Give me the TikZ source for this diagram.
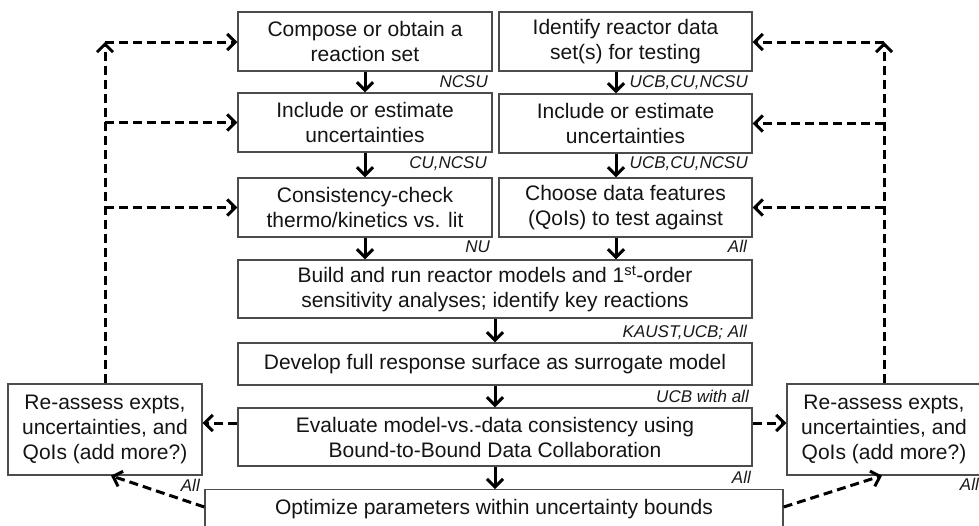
\documentclass[tikz,border=0pt]{standalone}
\usepackage{fontspec}
\setmainfont{Liberation Sans}
\usetikzlibrary{arrows.meta,calc}
\begin{document}
\begin{tikzpicture}[x=1pt,y=-1pt,
 box/.style={draw=black!70, line width=1.3pt, align=center, inner sep=0pt,
   font=\fontsize{21}{25}\selectfont, text=black!92},
 lab/.style={font=\fontsize{17}{18}\selectfont\itshape, inner sep=0pt, anchor=base east, text=black!90},
 arr/.style={line width=3pt, -{Straight Barb[length=8pt,width=16pt]}},
 darr/.style={arr, dash pattern=on 9pt off 5pt},
]
\useasboundingbox (0,0) rectangle (979,525);
\clip (0,0) rectangle (979,525);
\fill[white] (0,0) rectangle (979,525);

% boxes
\node[box, minimum width=254pt, minimum height=59pt] (L1) at (365,41.5) {Compose or obtain a\\reaction set};
\node[box, minimum width=254pt, minimum height=59pt] (L2) at (365,122.5) {Include or estimate\\uncertainties};
\node[box, minimum width=254pt, minimum height=59pt] (L3) at (365,207.5) {Consistency-check\\thermo/kinetics vs. lit};
\node[box, minimum width=253pt, minimum height=59pt] (R1) at (625.5,41.5) {Identify reactor data\\set(s) for testing};
\node[box, minimum width=253pt, minimum height=59pt] (R2) at (625.5,123.5) {Include or estimate\\uncertainties};
\node[box, minimum width=253pt, minimum height=59pt] (R3) at (625.5,207.5) {Choose data features\\(QoIs) to test against};
\node[box, minimum width=514pt, minimum height=58pt] (BU) at (495,289) {Build and run reactor models and 1\textsuperscript{st}-order\\sensitivity analyses; identify key reactions};
\node[box, minimum width=514pt, minimum height=42pt] (DE) at (495,364) {Develop full response surface as surrogate model};
\node[box, minimum width=514pt, minimum height=58pt] (EV) at (495,437) {Evaluate model-vs.-data consistency using\\Bound-to-Bound Data Collaboration};
\node[box, minimum width=578pt, minimum height=66pt, anchor=north] (OP) at (494,489) {Optimize parameters within uncertainty bounds\\\strut};
\node[box, minimum width=194pt, minimum height=91pt] (LR) at (105,429.5) {Re-assess expts,\\uncertainties, and\\QoIs (add more?)};
\node[box, minimum width=194pt, minimum height=91pt] (RR) at (884,429.5) {Re-assess expts,\\uncertainties, and\\QoIs (add more?)};

% helper coordinates
\coordinate (cr) at (616,0);
\coordinate (ltop) at (105,42);
\coordinate (rtop) at (884,42);
\coordinate (ye) at (0,423);
\coordinate (yo) at (0,507);

% solid arrows
\draw[arr] (L1.south) -- (L2.north);
\draw[arr] (L2.south) -- (L3.north);
\draw[arr] (L3.south) -- (L3.south |- BU.north);
\draw[arr] (R1.south -| cr) -- (R2.north -| cr);
\draw[arr] (R2.south -| cr) -- (R3.north -| cr);
\draw[arr] (R3.south -| cr) -- (BU.north -| cr);
\draw[arr] (BU.south) -- (DE.north);
\draw[arr] (DE.south) -- (EV.north);
\draw[arr] (EV.south) -- (EV.south |- OP.north);

% dashed feedback (left)
\draw[darr] (LR.north) -- (ltop);
\draw[darr] (ltop) -- (L1.west |- ltop);
\draw[darr] (LR.north |- L2.west) -- (L2.west);
\draw[darr] (LR.north |- L3.west) -- (L3.west);
% dashed feedback (right)
\draw[darr] (RR.north) -- (rtop);
\draw[darr] (rtop) -- (R1.east |- rtop);
\draw[darr] (RR.north |- R2.east) -- (R2.east);
\draw[darr] (RR.north |- R3.east) -- (R3.east);
% from evaluate
\draw[darr] (EV.west |- ye) -- (LR.east |- ye);
\draw[darr] (EV.east |- ye) -- (RR.west |- ye);
% from optimize
\draw[darr] (OP.west |- yo) -- ($(LR.south)+(6,0)$);
\draw[darr] (OP.east |- yo) -- ($(RR.south)+(-2,0)$);

% labels
\node[lab] (n1) at (488,87) {NCSU};
\node[lab] (n2) at (487,168) {CU,NCSU};
\node[lab] (n3) at (490,252) {NU};
\node[lab] (n4) at (748,87) {UCB,CU,NCSU};
\node[lab] (n5) at (748,168) {UCB,CU,NCSU};
\node[lab] (n6) at (747,252) {All};
\node[lab] (n7) at (747,337) {KAUST,UCB; All};
\node[lab] (n8) at (749,402) {UCB with all};
\node[lab] (n9) at (751,483) {All};
\node[lab] (n10) at (200,491) {All};
\node[lab] (n11) at (979,490) {All};
\end{tikzpicture}
\end{document}
